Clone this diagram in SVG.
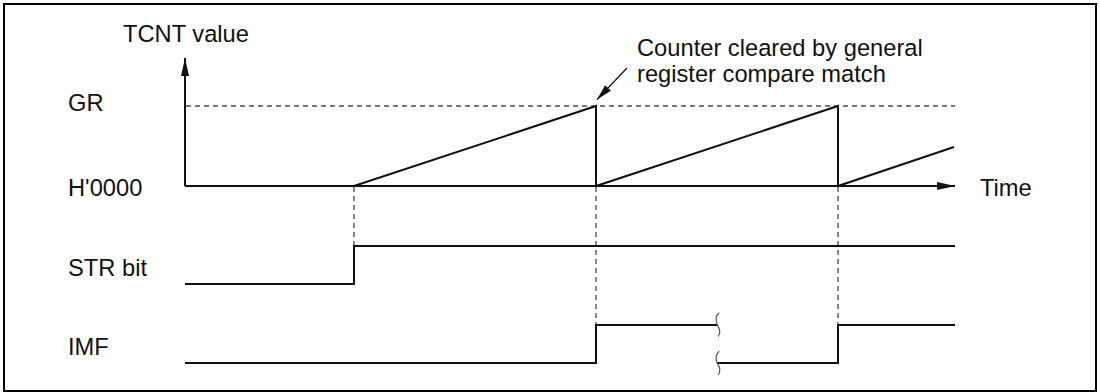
<svg xmlns="http://www.w3.org/2000/svg" width="1100" height="392" viewBox="0 0 1100 392">
  <style>
    .lbl { font-family: "Liberation Sans", Arial, sans-serif; font-size: 23.7px; fill: #111; }
    .sig { fill: none; stroke: #111; stroke-width: 2; stroke-linejoin: miter; }
    .dash { fill: none; stroke: #7a7a7a; stroke-width: 1.8; stroke-dasharray: 5 4; }
    .brk { fill: none; stroke: #555; stroke-width: 1.2; }
  </style>
  <defs>
    <marker id="ah" markerUnits="userSpaceOnUse" markerWidth="20" markerHeight="10" refX="18" refY="4" orient="auto">
      <path d="M0,0 L18,4 L0,8 Z" fill="#111"/>
    </marker>
    <marker id="ah2" markerUnits="userSpaceOnUse" markerWidth="18" markerHeight="10" refX="16" refY="4" orient="auto">
      <path d="M0,0 L16,4 L0,8 Z" fill="#111"/>
    </marker>
  </defs>
  <rect x="4" y="4" width="1092" height="387" fill="#fff" stroke="#000" stroke-width="2"/>

  <g id="labels">
    <text class="lbl" x="123" y="42">TCNT value</text>
    <text class="lbl" x="68" y="111">GR</text>
    <text class="lbl" x="68" y="196">H'0000</text>
    <text class="lbl" x="68" y="276">STR bit</text>
    <text class="lbl" x="68" y="355">IMF</text>
    <text class="lbl" x="980" y="196">Time</text>
    <text class="lbl" x="637" y="56">Counter cleared by general</text>
    <text class="lbl" x="637" y="82">register compare match</text>
  </g>

  <g id="guides">
    <line class="dash" x1="186" y1="106" x2="955" y2="106"/>
    <line class="dash" x1="354" y1="187" x2="354" y2="245"/>
    <line class="dash" x1="596" y1="187" x2="596" y2="324"/>
    <line class="dash" x1="838" y1="187" x2="838" y2="324"/>
  </g>

  <g id="axes">
    <line class="sig" x1="185" y1="186" x2="185" y2="58" marker-end="url(#ah)"/>
    <line class="sig" x1="185" y1="186" x2="955" y2="186" marker-end="url(#ah)"/>
  </g>

  <g id="tcnt">
    <polyline class="sig" points="354,186 596,106 596,186 838,106 838,186 954,147"/>
  </g>

  <g id="str">
    <polyline class="sig" points="185,284 354,284 354,246 955,246"/>
  </g>

  <g id="imf">
    <polyline class="sig" points="185,363 596,363 596,325 717,325"/>
    <polyline class="sig" points="717,363 838,363 838,325 955,325"/>
    <path class="brk" d="M719.3,312.7 C716,315 715.5,320 717.3,325 C719,328 721.5,331 718.3,336.5"/>
    <path class="brk" d="M719.3,351.2 C716,353.5 715.5,358.5 717.3,363.5 C719,366.5 721.5,369.5 718.3,375"/>
  </g>

  <g id="annotation">
    <line x1="627" y1="68" x2="597" y2="99.5" stroke="#111" stroke-width="1.2" marker-end="url(#ah2)"/>
  </g>
</svg>
